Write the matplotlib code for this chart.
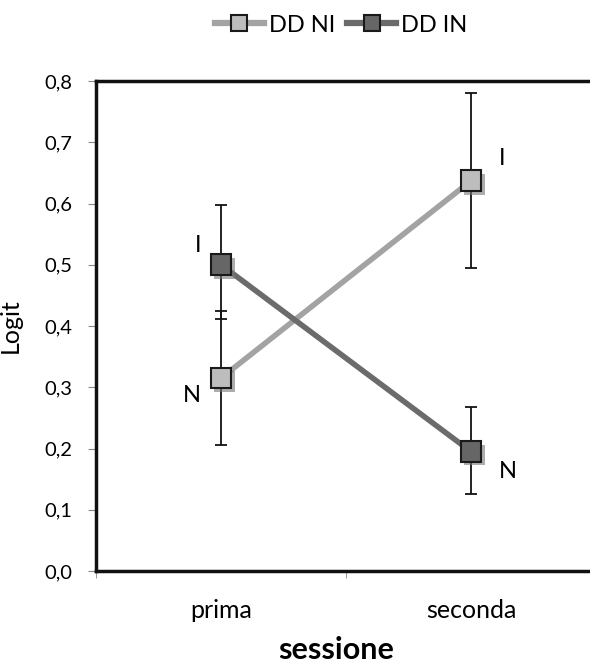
import matplotlib
matplotlib.use('Agg')
import matplotlib.pyplot as plt
import matplotlib.patheffects as pe
import numpy as np

plt.rcParams['font.family'] = ['Lato', 'DejaVu Sans']

sessions = ['prima', 'seconda']
series_names = ['DD NI', 'DD IN']
ni_vals = [0.315, 0.637]
ni_err = [0.11, 0.143]
in_vals = [0.50, 0.195]
in_err_low = [0.088, 0.07]
in_err_high = [0.098, 0.073]
ni_labels = ['N', 'I']
in_labels = ['I', 'N']
ytick_vals = [0.0, 0.1, 0.2, 0.3, 0.4, 0.5, 0.6, 0.7, 0.8]
ytick_labels = ['0,0', '0,1', '0,2', '0,3', '0,4', '0,5', '0,6', '0,7', '0,8']

fig = plt.figure(figsize=(5.9, 6.64), dpi=100)
ax = fig.add_axes([96 / 590, 1 - 571 / 664, 500 / 590, 490 / 664])

x = np.arange(1, len(sessions) + 1)
shadow = [pe.SimplePatchShadow(offset=(2.5, -2.5), shadow_rgbFace='#777777', alpha=0.6), pe.Normal()]

ax.errorbar(x, ni_vals, yerr=ni_err, fmt='none', ecolor='#111111', elinewidth=1.3, capsize=4, capthick=1.3, zorder=2)
ax.errorbar(x, in_vals, yerr=[in_err_low, in_err_high], fmt='none', ecolor='#111111', elinewidth=1.3, capsize=4, capthick=1.3, zorder=2)

ax.plot(x, ni_vals, color='#a3a3a3', lw=4, zorder=3)
ax.plot(x, in_vals, color='#6b6b6b', lw=4, zorder=3)
ni_line, = ax.plot(x, ni_vals, ls='none', marker='s', ms=15, mfc='#bdbdbd', mec='#1a1a1a', mew=1.5, zorder=4,
                   path_effects=shadow)
in_line, = ax.plot(x, in_vals, ls='none', marker='s', ms=15, mfc='#666666', mec='#1a1a1a', mew=1.5, zorder=4,
                   path_effects=shadow)

# point labels
ax.text(x[0] - 0.08, ni_vals[0] - 0.012, ni_labels[0], ha='right', va='top', fontsize=17)
ax.text(x[1] + 0.11, ni_vals[1] + 0.02, ni_labels[1], ha='left', va='bottom', fontsize=17)
ax.text(x[0] - 0.08, in_vals[0] + 0.015, in_labels[0], ha='right', va='bottom', fontsize=17)
ax.text(x[1] + 0.11, in_vals[1] - 0.015, in_labels[1], ha='left', va='top', fontsize=17)

ax.set_xlim(0.5, 2.5)
ax.set_ylim(0, 0.8)
ax.set_yticks(ytick_vals)
ax.set_yticklabels(ytick_labels, fontsize=14.5)
ax.set_xticks(x)
ax.set_xticklabels(sessions, fontsize=18)
ax.set_xticks([0.5, 1.5, 2.5], minor=True)
ax.tick_params(axis='x', which='major', length=0, pad=20)
ax.tick_params(axis='x', which='minor', length=5, color='#888888', direction='out')
ax.tick_params(axis='y', length=6, color='#888888', direction='out', pad=11)

for side in ['left', 'top', 'bottom', 'right']:
    ax.spines[side].set_linewidth(2.5)
    ax.spines[side].set_color('#111111')

ax.set_ylabel('Logit', fontsize=18)
ax.yaxis.set_label_coords(-74 / 500, 0.5)
fig.text(336 / 590, 1 - 659 / 664, 'sessione', fontsize=22, fontweight='bold', ha='center', va='baseline')

fig.legend([ni_line, in_line], series_names, loc='center', bbox_to_anchor=(341 / 590, 1 - 25 / 664),
           ncol=2, frameon=False, fontsize=17, handlelength=2.1, columnspacing=0.5, handletextpad=0.2,
           borderaxespad=0, borderpad=0)
# legend handles with line through marker
leg = fig.legends[0]
for h, c in zip(leg.legend_handles, ['#a3a3a3', '#6b6b6b']):
    h.set_linestyle('-')
    h.set_color(c)
    h.set_linewidth(4.5)
    h.set_path_effects([])
    h.set_markersize(11)

fig.savefig('out.png', dpi=100)
